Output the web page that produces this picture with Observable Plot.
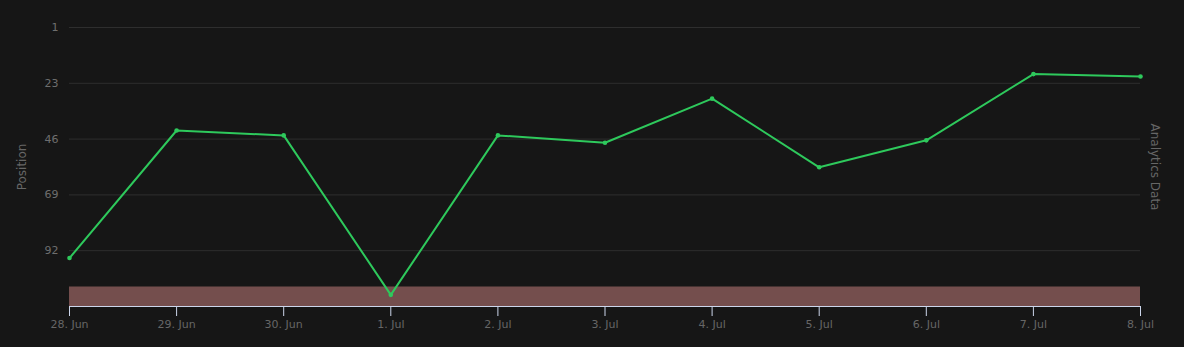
<!DOCTYPE html>
<html>
<head>
<meta charset="utf-8">
<script src="https://cdn.jsdelivr.net/npm/d3@7"></script>
<script src="https://cdn.jsdelivr.net/npm/@observablehq/plot@0.6"></script>
<style>
  html, body { margin: 0; padding: 0; background: #161616; }
  #chart { width: 1184px; height: 347px; }
</style>
</head>
<body>
<div id="chart"></div>
<script>
const dates = ["2023-06-28","2023-06-29","2023-06-30","2023-07-01","2023-07-02","2023-07-03","2023-07-04","2023-07-05","2023-07-06","2023-07-07","2023-07-08"];
const positions = [95, 43, 45, 110, 45, 48, 30, 58, 47, 20, 21];
const yTicks = [1, 23.75, 46.5, 69.25, 92];
const yDomain = [1, 114.75];
const bandRange = [106.8, 114.75];

const data = dates.map((d, i) => ({date: new Date(d + "T00:00:00Z"), pos: positions[i]}));
const xDomain = [data[0].date, data[data.length - 1].date];

const font = "DejaVu Sans, sans-serif";

const chart = Plot.plot({
  width: 1184,
  height: 347,
  marginTop: 27,
  marginBottom: 41,
  marginLeft: 69,
  marginRight: 44,
  style: {background: "#161616", fontFamily: font, fontSize: "11px", overflow: "visible"},
  x: {type: "utc", domain: xDomain},
  y: {domain: yDomain, reverse: true},
  marks: [
    Plot.ruleY(yTicks, {stroke: "#2e2e2e", strokeWidth: 1}),
    Plot.rect([{x1: xDomain[0], x2: xDomain[1], y1: bandRange[0], y2: bandRange[1]}],
      {x1: "x1", x2: "x2", y1: "y1", y2: "y2", fill: "#744e4d"}),
    Plot.ruleY([yDomain[1]], {stroke: "#ccd6eb", strokeWidth: 1}),
    Plot.axisX({
      ticks: data.map(d => d.date),
      tickFormat: d3.utcFormat("%-d. %b"),
      tickSize: 10,
      stroke: "#ccd6eb",
      fill: "#666",
      tickPadding: 4,
      label: null,
      fontSize: 11
    }),
    Plot.axisY({
      ticks: yTicks,
      tickFormat: d => String(Math.floor(d)),
      tickSize: 0,
      tickPadding: 11,
      fill: "#6e6e6e",
      label: null,
      fontSize: 11
    }),
    Plot.line(data, {x: "date", y: "pos", stroke: "#2ec95c", strokeWidth: 2}),
    Plot.dot(data, {x: "date", y: "pos", fill: "#2ec95c", r: 2.3}),
    Plot.text(["Position"], {frameAnchor: "left", textAnchor: "middle", dx: -47, rotate: -90, fill: "#666", fontSize: 12}),
    Plot.text(["Analytics Data"], {frameAnchor: "right", textAnchor: "middle", dx: 14, rotate: 90, fill: "#666", fontSize: 12})
  ]
});
document.getElementById("chart").appendChild(chart);
</script>
</body>
</html>
